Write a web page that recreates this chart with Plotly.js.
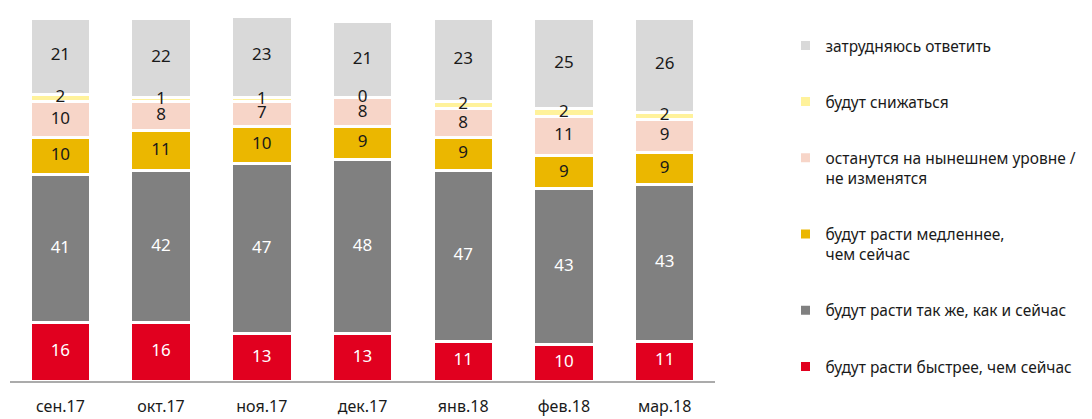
<!DOCTYPE html>
<html>
<head>
<meta charset="utf-8">
<script src="https://cdn.plot.ly/plotly-3.0.1.min.js"></script>
<style>
  body { margin: 0; background: #fff; }
  #chart { width: 1092px; height: 419px; }
</style>
</head>
<body>
<div id="chart"></div>
<script>
// survey months
const months = ['сен.17', 'окт.17', 'ноя.17', 'дек.17', 'янв.18', 'фев.18', 'мар.18'];

// answers, % (bottom to top)
const faster    = [16, 16, 13, 13, 11, 10, 11];
const same      = [41, 42, 47, 48, 47, 43, 43];
const slower    = [10, 11, 10, 9, 9, 9, 9];
const unchanged = [10, 8, 7, 8, 8, 11, 9];
const decrease  = [2, 1, 1, 0, 2, 2, 2];
const hard      = [21, 22, 23, 21, 23, 25, 26];

const seriesNames = [
    'будут расти быстрее, чем сейчас',
    'будут расти так же, как и сейчас',
    'будут расти медленнее,<br>чем сейчас',
    'останутся на нынешнем уровне /<br>не изменятся',
    'будут снижаться',
    'затрудняюсь ответить'
];
const seriesValues = [faster, same, slower, unchanged, decrease, hard];
const seriesColors = ['#E1001F', '#808080', '#EBB700', '#F7D5C8', '#FFF29B', '#D9D9D9'];
const labelColors  = ['#ffffff', '#ffffff', '#1a1a1a', '#1a1a1a', '#1a1a1a', '#1a1a1a'];

const FONT = 'Noto Sans, sans-serif';

let data = [];
let base = months.map(() => 0);

seriesValues.forEach((vals, k) => {
    data.push({
        type: 'bar',
        x: months,
        y: vals,
        name: seriesNames[k],
        legendgroup: 'g' + k,
        legendrank: (seriesValues.length - k) * 10, // top series first in legend
        width: 0.6,
        marker: {color: seriesColors[k], line: {color: '#ffffff', width: 3}},
        hoverinfo: 'skip'
    });
    // value labels in the middle of each segment
    let mids = vals.map((v, i) => base[i] + v / 2);
    data.push({
        type: 'scatter',
        mode: 'text',
        x: months,
        y: mids,
        text: vals.map(String),
        textposition: 'middle center',
        textfont: {family: FONT, size: 17, color: labelColors[k]},
        legendgroup: 'g' + k,
        legendrank: (seriesValues.length - k) * 10,
        showlegend: false,
        hoverinfo: 'skip',
        cliponaxis: false
    });
    base = base.map((b, i) => b + vals[i]);
});

let layout = {
    width: 1092,
    height: 419,
    barmode: 'stack',
    bargap: 0.4,
    margin: {l: 10, r: 375, t: 18, b: 38},
    paper_bgcolor: '#ffffff',
    plot_bgcolor: '#ffffff',
    font: {family: FONT, size: 15, color: '#1a1a1a'},
    xaxis: {
        type: 'category',
        showline: true,
        linecolor: '#ABABAB',
        linewidth: 2,
        ticks: '',
        ticklabelstandoff: 10,
        tickfont: {family: FONT, size: 16, color: '#1a1a1a'},
        showgrid: false,
        zeroline: false
    },
    yaxis: {
        range: [0, 100],
        visible: false,
        showgrid: false,
        zeroline: false
    },
    showlegend: true,
    legend: {
        x: 1.1,
        xanchor: 'left',
        y: 0.97,
        yanchor: 'top',
        traceorder: 'grouped',
        tracegroupgap: 33,
        valign: 'top',
        font: {family: FONT, size: 15.5, color: '#1a1a1a'}
    }
};

Plotly.newPlot('chart', data, layout, {displayModeBar: false, staticPlot: true});
</script>
</body>
</html>
